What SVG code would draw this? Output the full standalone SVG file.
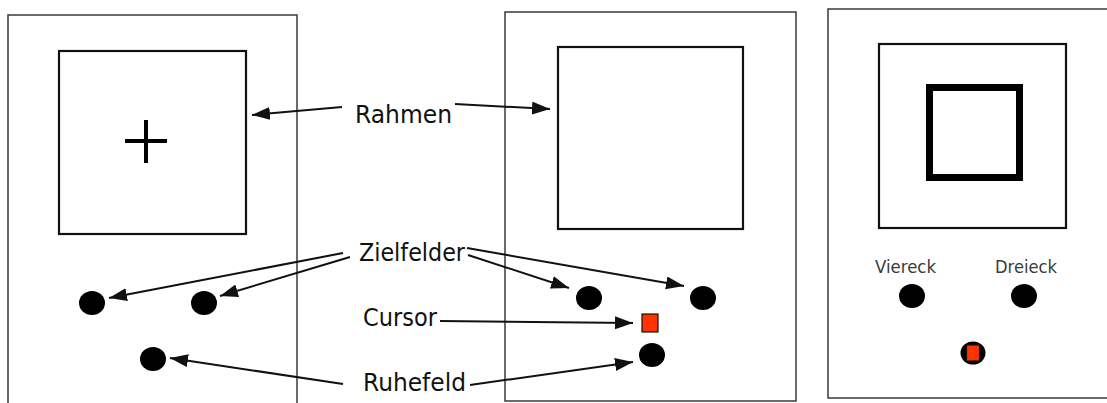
<svg xmlns="http://www.w3.org/2000/svg" width="1107" height="403" viewBox="0 0 1107 403">
  <style>
    .panel { fill: #ffffff; stroke: #3a3a3a; stroke-width: 1.5; }
    .frame { fill: none; stroke: #111111; stroke-width: 2.2; }
    .dot { fill: #000000; }
    .cursor { fill: #ff3300; stroke: #111111; stroke-width: 1.2; }
    .label { font-family: "DejaVu Sans", "Liberation Sans", sans-serif; font-size: 25px; fill: #111111; }
    .small { font-family: "DejaVu Sans", "Liberation Sans", sans-serif; font-size: 18px; fill: #3a3a3a; }
    .conn { fill: none; stroke: #111111; stroke-width: 2; marker-end: url(#arrow); }
  </style>
  <defs>
    <marker id="arrow" markerUnits="userSpaceOnUse" markerWidth="20" markerHeight="14" refX="18" refY="6.5" orient="auto">
      <path d="M0,0 L18,6.5 L0,13 Z" fill="#111111"/>
    </marker>
  </defs>
  <rect width="1107" height="403" fill="#ffffff"/>

  <!-- screen 1: fixation cross -->
  <g id="screen1">
    <rect class="panel" x="8" y="15" width="289" height="400"/>
    <rect id="frame1" class="frame" x="59" y="51" width="187" height="183"/>
    <path d="M125,141 H167 M146,120 V163" stroke="#000" stroke-width="4" fill="none"/>
    <ellipse id="target1a" class="dot" cx="92" cy="303" rx="13" ry="12"/>
    <ellipse id="target1b" class="dot" cx="204" cy="303" rx="13" ry="12"/>
    <ellipse id="rest1" class="dot" cx="153" cy="359" rx="13" ry="12"/>
  </g>

  <!-- screen 2: empty frame with cursor -->
  <g id="screen2">
    <rect class="panel" x="505" y="12" width="291" height="389"/>
    <rect id="frame2" class="frame" x="558" y="47" width="185" height="182"/>
    <ellipse id="target2a" class="dot" cx="589" cy="298" rx="13" ry="12"/>
    <ellipse id="target2b" class="dot" cx="703" cy="298" rx="13" ry="12"/>
    <rect id="cursor2" class="cursor" x="642" y="314" width="16" height="18"/>
    <ellipse id="rest2" class="dot" cx="652" cy="355" rx="13" ry="12"/>
  </g>

  <!-- screen 3: square stimulus -->
  <g id="screen3">
    <rect class="panel" x="828" y="9" width="290" height="389"/>
    <rect id="frame3" class="frame" x="879" y="44" width="187" height="184"/>
    <rect x="929.5" y="87.5" width="90" height="90" fill="none" stroke="#000" stroke-width="7"/>
    <text class="small" x="875" y="273" textLength="61" lengthAdjust="spacingAndGlyphs">Viereck</text>
    <text class="small" x="995" y="273" textLength="62" lengthAdjust="spacingAndGlyphs">Dreieck</text>
    <ellipse id="target3a" class="dot" cx="912" cy="296" rx="13" ry="12"/>
    <ellipse id="target3b" class="dot" cx="1024" cy="296" rx="13" ry="12"/>
    <ellipse id="rest3" class="dot" cx="973" cy="353" rx="12.5" ry="11.5"/>
    <rect id="cursor3" class="cursor" x="966.5" y="345" width="13" height="16"/>
  </g>

  <!-- labels -->
  <g id="labels">
    <text class="label" x="355" y="123" textLength="97" lengthAdjust="spacingAndGlyphs">Rahmen</text>
    <text class="label" x="359" y="261" textLength="106" lengthAdjust="spacingAndGlyphs">Zielfelder</text>
    <text class="label" x="363" y="326" textLength="74" lengthAdjust="spacingAndGlyphs">Cursor</text>
    <text class="label" x="363" y="391" textLength="103" lengthAdjust="spacingAndGlyphs">Ruhefeld</text>
  </g>

  <!-- connectors -->
  <g id="connectors">
    <line class="conn" x1="342" y1="107" x2="252" y2="115"/>
    <line class="conn" x1="455" y1="104" x2="550" y2="109"/>
    <line class="conn" x1="343" y1="253" x2="109" y2="298"/>
    <line class="conn" x1="350" y1="257" x2="220" y2="296"/>
    <line class="conn" x1="468" y1="255" x2="569" y2="288"/>
    <line class="conn" x1="467" y1="248" x2="684" y2="286"/>
    <line class="conn" x1="440" y1="321" x2="633" y2="323"/>
    <line class="conn" x1="343" y1="384" x2="170" y2="358"/>
    <line class="conn" x1="470" y1="385" x2="633" y2="362"/>
  </g>
</svg>
